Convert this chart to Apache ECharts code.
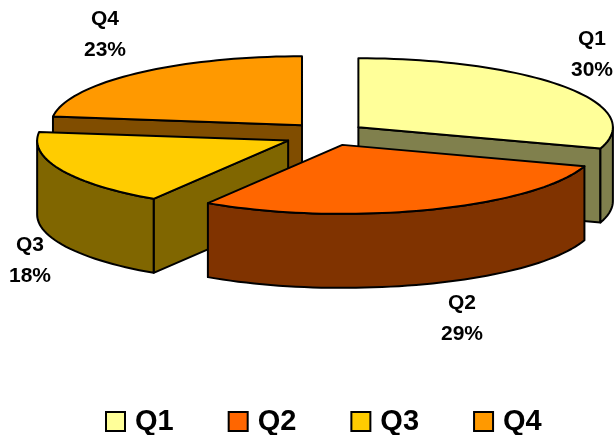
<!DOCTYPE html>
<html>
<head>
<meta charset="utf-8">
<title>Quarterly shares</title>
<style>
  html, body { margin: 0; padding: 0; background: #fff; }
  #chart { width: 616px; height: 435px; }
</style>
<script src="https://cdn.jsdelivr.net/npm/echarts@6/dist/echarts.min.js"></script>
</head>
<body>
<div id="chart"></div>
<script>
// Quarterly shares, in percent
const quarters = ['Q1', 'Q2', 'Q3', 'Q4'];
const shares = [30, 29, 18, 23];
const topColors = ['#FFFF99', '#FF6600', '#FFCC00', '#FF9900'];
const sideColors = ['#80804D', '#803300', '#806600', '#804D00'];

// Back-to-front painting order of the exploded slices
const zByQuarter = [2, 4, 3, 1];

// Projection of the tilted pie
const pie = {
  cx: 326.7, cy: 134.4,       // centre of the unexploded pie
  rxRight: 254.5, rxLeft: 251, // horizontal radii, slightly uneven from the perspective
  ry: 69,                     // vertical radius of the top face
  depth: 74,                  // thickness
  explodeX: 40.4, explodeY: 12.2
};
// Small correction of each slice's exploded position
const sliceNudge = [[-1, 0], [2, -1], [-2, 1], [2, 0]];
const labelCentres = [[592, 39], [462, 303], [30, 245], [105, 19]];
const labelLineGap = 31;

const total = shares.reduce((a, b) => a + b, 0);
const toRad = d => d * Math.PI / 180;

function renderSlice(params, api) {
  const i = params.seriesIndex;
  const share = api.value(0);
  const before = shares.slice(0, i).reduce((a, b) => a + b, 0);
  const start = before / total * 360;
  const end = (before + share) / total * 360;
  const mid = (start + end) / 2;

  const ax = pie.cx + pie.explodeX * Math.sin(toRad(mid)) + sliceNudge[i][0];
  const ay = pie.cy - pie.explodeY * Math.cos(toRad(mid)) + sliceNudge[i][1];
  const rim = t => {
    const s = Math.sin(toRad(t));
    return [ax + (s >= 0 ? pie.rxRight : pie.rxLeft) * s, ay - pie.ry * Math.cos(toRad(t))];
  };
  const drop = p => [p[0], p[1] + pie.depth];
  const arc = (from, to) => {
    const pts = [];
    const n = Math.max(2, Math.ceil((to - from) / 2));
    for (let k = 0; k <= n; k++) pts.push(rim(from + (to - from) * k / n));
    return pts;
  };

  const line = { stroke: '#000', lineWidth: 2, lineJoin: 'round' };
  const poly = (points, fill) => ({
    type: 'polygon',
    shape: { points },
    style: Object.assign({ fill }, line)
  });
  const children = [];
  const side = sideColors[i];
  const apex = [ax, ay];

  // Cut faces that turn toward the viewer
  const wall = t => {
    const p = rim(t);
    return poly([apex, p, drop(p), drop(apex)], side);
  };
  if (Math.sin(toRad(start)) < -1e-6) children.push(wall(start));
  if (Math.sin(toRad(end)) > 1e-6) children.push(wall(end));

  // Outer wall, only the front half of the ellipse shows
  const from = Math.max(start, 90);
  const to = Math.min(end, 270);
  if (to > from) {
    const upper = arc(from, to);
    children.push(poly(upper.concat(upper.map(drop).reverse()), side));
  }

  // Top face
  children.push(poly([apex].concat(arc(start, end)), topColors[i]));

  // Name and percentage
  const [lx, ly] = labelCentres[i];
  const textStyle = t => ({
    text: t,
    fill: '#000',
    font: 'bold 21px "Liberation Sans", Arial, sans-serif',
    align: 'center',
    verticalAlign: 'middle'
  });
  children.push({ type: 'text', style: Object.assign({ x: lx, y: ly }, textStyle(quarters[i])) });
  children.push({ type: 'text', style: Object.assign({ x: lx, y: ly + labelLineGap }, textStyle(share + '%')) });

  return { type: 'group', children };
}

const chart = echarts.init(document.getElementById('chart'), null, { renderer: 'canvas' });
chart.setOption({
  animation: false,
  backgroundColor: '#fff',
  legend: {
    data: quarters,
    icon: 'rect',
    left: 100,
    top: 402,
    itemWidth: 19,
    itemHeight: 19,
    itemGap: 54,
    selectedMode: false,
    textStyle: {
      color: '#000',
      fontFamily: '"Liberation Sans", Arial, sans-serif',
      fontWeight: 'bold',
      fontSize: 29,
      padding: [0, 0, 0, 5]
    }
  },
  series: quarters.map((name, i) => ({
    type: 'custom',
    name,
    coordinateSystem: 'none',
    z: zByQuarter[i],
    silent: true,
    itemStyle: { color: topColors[i], borderColor: '#000', borderWidth: 2 },
    data: [[shares[i]]],
    renderItem: renderSlice
  }))
});
</script>
</body>
</html>
